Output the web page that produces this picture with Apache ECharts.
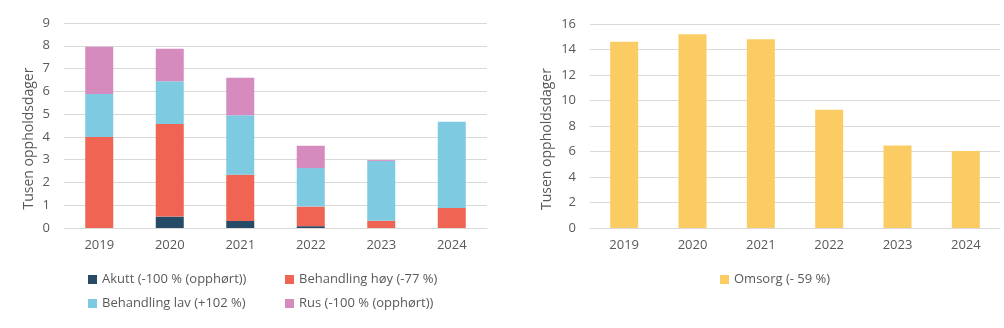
<!DOCTYPE html>
<html>
<head>
<meta charset="utf-8">
<script src="https://cdn.jsdelivr.net/npm/echarts@6/dist/echarts.min.js"></script>
<style>
html,body{margin:0;padding:0;background:#fff;}
#c{width:1004px;height:328px;}
</style>
</head>
<body>
<div id="c"></div>
<script>
const years = ['2019','2020','2021','2022','2023','2024'];
const akutt = [0, 0.5, 0.31, 0.08, 0, 0];
const behHoy = [4.0, 4.07, 2.03, 0.86, 0.32, 0.88];
const behLav = [1.88, 1.87, 2.61, 1.69, 2.62, 3.79];
const rus = [2.08, 1.43, 1.65, 0.98, 0.04, 0];
const omsorg = [14.61, 15.19, 14.8, 9.28, 6.48, 6.04];
const names = ['Akutt (-100 % (opphørt))','Behandling høy (-77 %)','Behandling lav (+102 %)','Rus (-100 % (opphørt))','Omsorg (- 59 %)'];
const leftTicks = {min:0, max:9, interval:1};
const rightTicks = {min:0, max:16, interval:2};

const font = "'Open Sans', sans-serif";
const txt = '#595959';
const colors = ['#264b67','#ef6452','#7ecae1','#d68bbf','#fbcc64'];

const chart = echarts.init(document.getElementById('c'));
function yAxis(gridIndex, t, gap){
  return {
    type:'value', gridIndex, min:t.min, max:t.max, interval:t.interval,
    name:'Tusen oppholdsdager', nameLocation:'middle', nameGap:gap, nameRotate:90,
    nameTextStyle:{color:txt, fontFamily:font, fontSize:14, padding:[0,26,0,0]},
    axisLabel:{color:txt, fontFamily:font, fontSize:13, margin:14},
    axisLine:{show:false}, axisTick:{show:false},
    splitLine:{lineStyle:{color:'#d9d9d9', width:1}}
  };
}
function xAxis(gridIndex){
  return {
    type:'category', gridIndex, data:years,
    axisLabel:{color:txt, fontFamily:font, fontSize:13, margin:11},
    axisLine:{lineStyle:{color:'#d9d9d9'}}, axisTick:{show:false}
  };
}
const legendBase = {
  orient:'vertical', itemWidth:9, itemHeight:9, icon:'rect', itemGap:11,
  textStyle:{color:txt, fontFamily:font, fontSize:13}
};
const mk = (name, data, i, xi) => ({
  name, type:'bar', stack: xi===0 ? 'a' : undefined, data,
  xAxisIndex:xi, yAxisIndex:xi, barWidth:28,
  itemStyle:{color:colors[i]}
});
chart.setOption({
  animation:false,
  grid:[
    {left:64, right:517, top:23, bottom:100},
    {left:590, right:4, top:24, bottom:100}
  ],
  xAxis:[xAxis(0), xAxis(1)],
  yAxis:[yAxis(0, leftTicks, 28), yAxis(1, rightTicks, 36)],
  legend:[
    Object.assign({}, legendBase, {left:83, top:268, data:[names[0], names[2]]}),
    Object.assign({}, legendBase, {left:280, top:268, data:[names[1], names[3]]}),
    Object.assign({}, legendBase, {left:715, top:268, data:[names[4]]})
  ],
  series:[
    mk(names[0], akutt, 0, 0),
    mk(names[1], behHoy, 1, 0),
    mk(names[2], behLav, 2, 0),
    mk(names[3], rus, 3, 0),
    mk(names[4], omsorg, 4, 1)
  ]
});
</script>
</body>
</html>
